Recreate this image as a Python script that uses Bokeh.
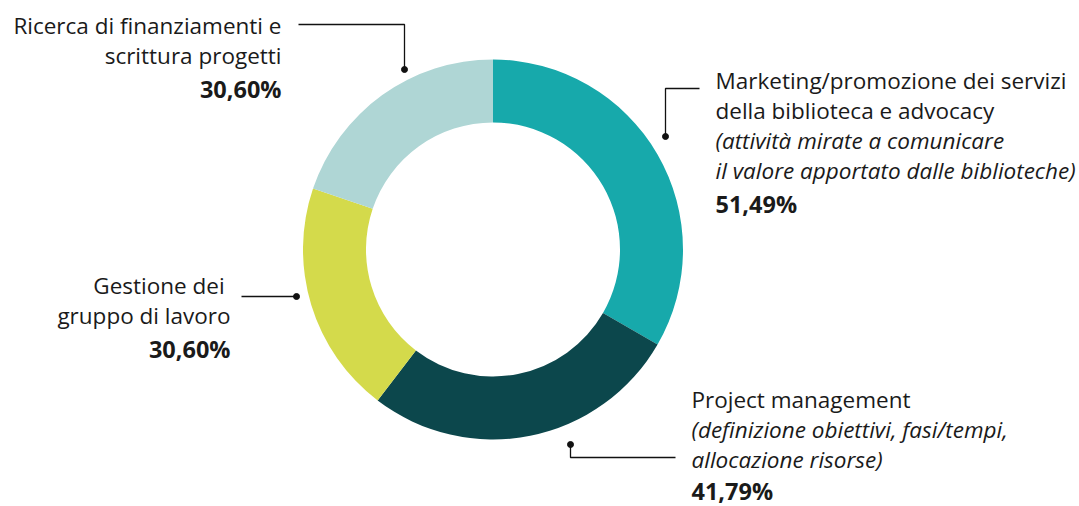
import math
from bokeh.plotting import figure
from bokeh.models import Range1d, ColumnDataSource
from bokeh.core.properties import value
from bokeh.embed import file_html
from bokeh.resources import INLINE

# ---- data ----
categories = [
    "Marketing/promozione dei servizi della biblioteca e advocacy",
    "Project management",
    "Gestione dei gruppo di lavoro",
    "Ricerca di finanziamenti e scrittura progetti",
]
values = [51.49, 41.79, 30.60, 30.60]
value_labels = ["51,49%", "41,79%", "30,60%", "30,60%"]
colors = ["#17A9AB", "#0C474C", "#D4DA4B", "#AFD6D5"]

label_main = [
    ["Marketing/promozione dei servizi", "della biblioteca e advocacy"],
    ["Project management"],
    ["Gestione dei ", "gruppo di lavoro"],
    ["Ricerca di finanziamenti e", "scrittura progetti"],
]
label_italic = [
    ["(attività mirate a comunicare", "il valore apportato dalle biblioteche)"],
    ["(definizione obiettivi, fasi/tempi,", "allocazione risorse)"],
    [],
    [],
]

W, H = 1079, 506
FONT = "Open Sans"
TXT = "#1a1a1a"


def Y(sy):
    return H - sy


p = figure(width=W, height=H, output_backend="svg", toolbar_location=None,
           x_range=Range1d(0, W), y_range=Range1d(0, H),
           min_border=0)
p.axis.visible = False
p.grid.visible = False
p.outline_line_color = None
p.background_fill_color = "white"

# ---- donut ----
total = sum(values)
starts, ends = [], []
a = math.pi / 2
for v in values:
    starts.append(a)
    a -= v / total * 2 * math.pi
    ends.append(a)
cx, cy = 492.5, Y(249)
src = ColumnDataSource(dict(start=starts, end=ends, color=colors))
p.annular_wedge(x=cx, y=cy, inner_radius=127, outer_radius=190,
                start_angle="end", end_angle="start", color="color",
                line_color=None, source=src)

# ---- leader lines ----
leaders = [
    ([699, 665, 665], [88, 88, 136]),
    ([675, 570, 570], [457, 457, 444]),
    ([241, 296], [296, 296]),
    ([298, 404, 404], [24, 24, 69]),
]
for xs, ys in leaders:
    p.line(xs, [Y(v) for v in ys], line_color="#111111", line_width=1.3)
    p.scatter([xs[-1]], [Y(ys[-1])], size=6, color="#111111")

# ---- labels ----
anchors = [  # x, first line centre, align, gap before the value
    (715, 80, "left", 3),
    (691, 399, "left", 1),
    (230, 285, "right", 3),
    (281, 25, "right", 3),
]
LH = 30
for i in range(4):
    x, b, al, g = anchors[i]
    row = 0
    for t in label_main[i]:
        p.text([x], [Y(b + row * LH)], text=[t], text_font=value(FONT),
               text_font_size="22.5px", text_align=al, text_baseline="middle",
               text_color=TXT)
        row += 1
    for t in label_italic[i]:
        p.text([x], [Y(b + row * LH)], text=[t], text_font=value(FONT),
               text_font_size="22.5px", text_font_style="italic", text_align=al,
               text_baseline="middle", text_color=TXT)
        row += 1
    p.text([x], [Y(b + row * LH + g)], text=[value_labels[i]], text_font=value(FONT),
           text_font_size="23.5px", text_font_style="bold", text_align=al,
           text_baseline="middle", text_color=TXT)

open("out.html", "w").write(file_html(p, INLINE))
